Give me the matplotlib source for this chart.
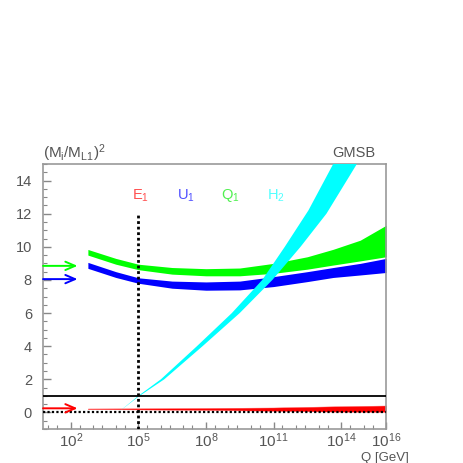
import numpy as np
import matplotlib
matplotlib.use("Agg")
import matplotlib.pyplot as plt
from matplotlib.ticker import FixedLocator, LogLocator, NullFormatter

plt.rcParams['font.family'] = ['Liberation Sans', 'DejaVu Sans']
plt.rcParams['mathtext.fontset'] = 'custom'
plt.rcParams['mathtext.rm'] = 'Liberation Sans'
plt.rcParams['mathtext.it'] = 'Liberation Sans'

# log10(Q/GeV) grid of the running bands
log_q = [2.76, 4.0, 5.0, 6.5, 8.0, 9.5, 11.0, 12.5, 13.65, 14.85, 16.0]
q1_hi = [9.84, 9.30, 8.95, 8.75, 8.68, 8.72, 9.00, 9.40, 9.85, 10.40, 11.30]
q1_lo = [9.50, 8.95, 8.62, 8.35, 8.25, 8.25, 8.40, 8.65, 8.90, 9.15, 9.40]
u1_hi = [9.06, 8.50, 8.13, 7.93, 7.88, 7.93, 8.20, 8.50, 8.75, 9.00, 9.30]
u1_lo = [8.70, 8.15, 7.80, 7.50, 7.38, 7.40, 7.60, 7.90, 8.15, 8.30, 8.45]

log_q_e = [2.76, 5.0, 8.0, 11.0, 13.65, 16.0]
e1_hi = [0.24, 0.25, 0.27, 0.30, 0.37, 0.42]
e1_lo = [0.20, 0.18, 0.15, 0.10, 0.05, 0.03]

# H2 band edges (left/upper edge and right/lower edge)
h2_left_q = [4.1, 5.0, 6.0, 7.6, 9.15, 10.5, 11.5, 12.55, 13.65]
h2_left_y = [0.0, 1.0, 2.0, 4.0, 6.0, 8.0, 10.0, 12.2, 15.0]
h2_right_q = [4.1, 5.0, 6.15, 7.85, 9.5, 10.95, 12.2, 13.35, 14.7]
h2_right_y = [0.0, 0.95, 2.0, 4.0, 6.0, 8.0, 10.0, 12.0, 15.0]

# boundary values (arrows on the left)
arrow_vals = {"Q1": 8.85, "U1": 8.05, "E1": 0.25}

labels = ["E$_1$", "U$_1$", "Q$_1$", "H$_2$"]
label_pos = [5.1, 7.1, 9.1, 11.1]
label_col = ["#ff5050", "#5050ff", "#50f050", "#50ffff"]


def main():
    fig = plt.figure(figsize=(4.63, 4.63), dpi=100)
    ax = fig.add_axes([0.093, 0.0734, 0.741, 0.5724])
    ax.set_xscale('log')

    q = 10 ** np.array(log_q)
    ax.fill_between(q, q1_lo, q1_hi, color='#00ff00', lw=0, zorder=2)
    ax.fill_between(q, u1_lo, u1_hi, color='#0000ff', lw=0, zorder=2)

    qe = 10 ** np.array(log_q_e)
    ax.fill_between(qe, e1_lo, e1_hi, color='#ff0000', lw=0.3, edgecolor='#ff6060', zorder=2)

    hx = np.concatenate([10 ** np.array(h2_left_q), 10 ** np.array(h2_right_q)[::-1]])
    hy = np.concatenate([h2_left_y, h2_right_y[::-1]])
    ax.fill(hx, hy, color='#00ffff', lw=0, zorder=3)

    ax.axhline(1.0, color='k', lw=1.3, zorder=4)
    ax.axhline(0.0, color='k', lw=1.6, ls=(0, (1, 1)), zorder=4)
    ax.plot([1e5, 1e5], [-1, 12], color='k', lw=2, ls=(0, (1, 1)), zorder=4)

    x0 = 10 ** 0.77
    x1 = 10 ** 2.3
    for key, col in [("Q1", '#00ff00'), ("U1", '#0000ff'), ("E1", '#ff0000')]:
        v = arrow_vals[key]
        ax.annotate("", xy=(x1, v), xytext=(x0, v),
                    arrowprops=dict(arrowstyle='->, head_length=0.7, head_width=0.3',
                                    color=col, lw=1.4, shrinkA=0, shrinkB=0),
                    zorder=5)

    for lab, p, c in zip(labels, label_pos, label_col):
        ax.text(10 ** p, 13.1, lab, color=c, fontsize=10.5, ha='center', va='center')

    ax.set_xlim(10 ** 0.77, 1e16)
    ax.set_ylim(-1, 15)

    ax.xaxis.set_major_locator(FixedLocator([1e2, 1e5, 1e8, 1e11, 1e14, 1e16]))
    ax.set_xticklabels([r'$10^{2}$', r'$10^{5}$', r'$10^{8}$', r'$10^{11}$',
                        r'$10^{14}$', r'$10^{16}$'])
    ax.xaxis.set_minor_locator(LogLocator(base=10, subs=(1.0, 2.5), numticks=40))
    ax.xaxis.set_minor_formatter(NullFormatter())
    ax.set_yticks(np.arange(0, 15, 2))
    ax.set_yticks(np.arange(-1, 15.01, 0.5), minor=True)

    ax.tick_params(which='both', direction='in', colors='#888888', labelcolor='#555555',
                   top=False, right=False)
    ax.tick_params(axis='y', which='major', length=6, width=1, labelsize=10.5, pad=8)
    ax.tick_params(axis='y', which='minor', length=3, width=0.8)
    ax.tick_params(axis='x', which='major', length=5, width=1, labelsize=11, pad=2)
    ax.tick_params(axis='x', which='minor', length=3, width=0.8)
    for s in ax.spines.values():
        s.set_color('#999999')
        s.set_linewidth(1.2)

    ax.text(0.0, 1.042, r'(M$_\mathregular{i}$/M$_\mathregular{L1}$)$^2$', transform=ax.transAxes,
            fontsize=11, color='#555555', ha='left', va='center')
    ax.text(0.968, 1.043, 'GMSB', transform=ax.transAxes, fontsize=10.5,
            color='#555555', ha='right', va='center')
    fig.text(409 / 463, 1 - 457.5 / 463, 'Q [GeV]', fontsize=9.5, color='#555555',
             ha='right', va='center')

    fig.savefig('out.png', dpi=100)


if __name__ == "__main__":
    main()
